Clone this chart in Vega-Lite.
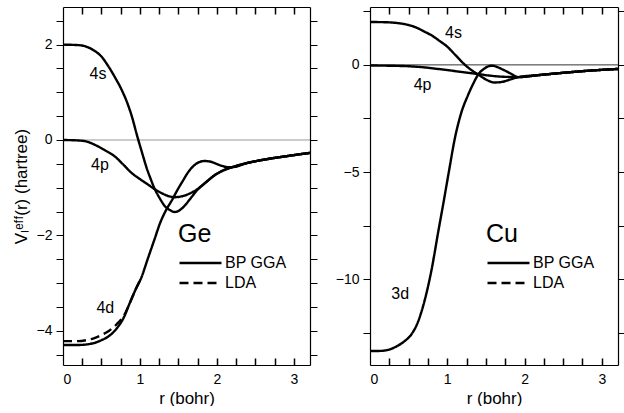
{
  "$schema": "https://vega.github.io/schema/vega-lite/v6.json",
  "padding": {"left": 12, "top": 4, "right": 0, "bottom": 0},
  "spacing": 17,
  "config": {
    "view": {"stroke": null},
    "font": "Liberation Sans",
    "axis": {"domainColor": "black", "domainWidth": 1.2, "tickColor": "black", "tickWidth": 1, "labelFont": "Liberation Sans", "labelFontSize": 14, "labelColor": "black", "titleFont": "Liberation Sans", "titleFontSize": 17, "titleFontWeight": "normal", "titleColor": "black", "grid": false, "labelOverlap": false}
  },
  "datasets": {
    "ge": [
      {"orbital": "zero", "method": "BP GGA", "r": 0, "v": 0},
      {"orbital": "zero", "method": "BP GGA", "r": 3.21, "v": 0},
      {"orbital": "4s", "method": "BP GGA", "r": 0, "v": 2.0},
      {"orbital": "4s", "method": "BP GGA", "r": 0.2, "v": 1.99},
      {"orbital": "4s", "method": "BP GGA", "r": 0.3, "v": 1.96},
      {"orbital": "4s", "method": "BP GGA", "r": 0.4, "v": 1.88},
      {"orbital": "4s", "method": "BP GGA", "r": 0.5, "v": 1.75},
      {"orbital": "4s", "method": "BP GGA", "r": 0.58, "v": 1.57},
      {"orbital": "4s", "method": "BP GGA", "r": 0.67, "v": 1.33},
      {"orbital": "4s", "method": "BP GGA", "r": 0.76, "v": 1.06},
      {"orbital": "4s", "method": "BP GGA", "r": 0.83, "v": 0.8},
      {"orbital": "4s", "method": "BP GGA", "r": 0.89, "v": 0.52},
      {"orbital": "4s", "method": "BP GGA", "r": 0.97, "v": 0.05},
      {"orbital": "4s", "method": "BP GGA", "r": 1.03, "v": -0.28},
      {"orbital": "4s", "method": "BP GGA", "r": 1.08, "v": -0.55},
      {"orbital": "4s", "method": "BP GGA", "r": 1.14, "v": -0.82},
      {"orbital": "4s", "method": "BP GGA", "r": 1.19, "v": -1.02},
      {"orbital": "4s", "method": "BP GGA", "r": 1.26, "v": -1.23},
      {"orbital": "4s", "method": "BP GGA", "r": 1.32, "v": -1.38},
      {"orbital": "4s", "method": "BP GGA", "r": 1.39, "v": -1.47},
      {"orbital": "4s", "method": "BP GGA", "r": 1.45, "v": -1.51},
      {"orbital": "4s", "method": "BP GGA", "r": 1.51, "v": -1.48},
      {"orbital": "4s", "method": "BP GGA", "r": 1.58, "v": -1.38},
      {"orbital": "4s", "method": "BP GGA", "r": 1.66, "v": -1.22},
      {"orbital": "4s", "method": "BP GGA", "r": 1.75, "v": -1.04},
      {"orbital": "4s", "method": "BP GGA", "r": 1.87, "v": -0.87},
      {"orbital": "4s", "method": "BP GGA", "r": 1.97, "v": -0.74},
      {"orbital": "4s", "method": "BP GGA", "r": 2.08, "v": -0.64},
      {"orbital": "4s", "method": "BP GGA", "r": 2.2, "v": -0.57},
      {"orbital": "4s", "method": "BP GGA", "r": 2.4, "v": -0.48},
      {"orbital": "4s", "method": "BP GGA", "r": 2.62, "v": -0.41},
      {"orbital": "4s", "method": "BP GGA", "r": 2.9, "v": -0.34},
      {"orbital": "4s", "method": "BP GGA", "r": 3.21, "v": -0.27},
      {"orbital": "4p", "method": "BP GGA", "r": 0, "v": 0.0},
      {"orbital": "4p", "method": "BP GGA", "r": 0.2, "v": -0.01},
      {"orbital": "4p", "method": "BP GGA", "r": 0.3, "v": -0.03},
      {"orbital": "4p", "method": "BP GGA", "r": 0.45, "v": -0.13},
      {"orbital": "4p", "method": "BP GGA", "r": 0.55, "v": -0.22},
      {"orbital": "4p", "method": "BP GGA", "r": 0.67, "v": -0.34},
      {"orbital": "4p", "method": "BP GGA", "r": 0.78, "v": -0.51},
      {"orbital": "4p", "method": "BP GGA", "r": 0.89, "v": -0.69},
      {"orbital": "4p", "method": "BP GGA", "r": 1.0, "v": -0.82},
      {"orbital": "4p", "method": "BP GGA", "r": 1.1, "v": -0.93},
      {"orbital": "4p", "method": "BP GGA", "r": 1.2, "v": -1.04},
      {"orbital": "4p", "method": "BP GGA", "r": 1.3, "v": -1.13},
      {"orbital": "4p", "method": "BP GGA", "r": 1.45, "v": -1.2},
      {"orbital": "4p", "method": "BP GGA", "r": 1.55, "v": -1.18},
      {"orbital": "4p", "method": "BP GGA", "r": 1.65, "v": -1.12},
      {"orbital": "4p", "method": "BP GGA", "r": 1.75, "v": -1.03},
      {"orbital": "4p", "method": "BP GGA", "r": 1.87, "v": -0.87},
      {"orbital": "4p", "method": "BP GGA", "r": 1.97, "v": -0.74},
      {"orbital": "4p", "method": "BP GGA", "r": 2.08, "v": -0.64},
      {"orbital": "4p", "method": "BP GGA", "r": 2.2, "v": -0.57},
      {"orbital": "4p", "method": "BP GGA", "r": 2.4, "v": -0.48},
      {"orbital": "4p", "method": "BP GGA", "r": 2.62, "v": -0.41},
      {"orbital": "4p", "method": "BP GGA", "r": 2.9, "v": -0.34},
      {"orbital": "4p", "method": "BP GGA", "r": 3.21, "v": -0.27},
      {"orbital": "4d", "method": "LDA", "r": 0, "v": -4.22},
      {"orbital": "4d", "method": "LDA", "r": 0.2, "v": -4.22},
      {"orbital": "4d", "method": "LDA", "r": 0.3, "v": -4.2},
      {"orbital": "4d", "method": "LDA", "r": 0.4, "v": -4.16},
      {"orbital": "4d", "method": "LDA", "r": 0.5, "v": -4.09},
      {"orbital": "4d", "method": "LDA", "r": 0.6, "v": -4.0},
      {"orbital": "4d", "method": "LDA", "r": 0.7, "v": -3.86},
      {"orbital": "4d", "method": "LDA", "r": 0.8, "v": -3.66},
      {"orbital": "4d", "method": "LDA", "r": 0.86, "v": -3.45},
      {"orbital": "4d", "method": "LDA", "r": 0.94, "v": -3.15},
      {"orbital": "4d", "method": "LDA", "r": 1.02, "v": -2.88},
      {"orbital": "4d", "method": "BP GGA", "r": 0, "v": -4.3},
      {"orbital": "4d", "method": "BP GGA", "r": 0.2, "v": -4.3},
      {"orbital": "4d", "method": "BP GGA", "r": 0.3, "v": -4.29},
      {"orbital": "4d", "method": "BP GGA", "r": 0.4, "v": -4.26},
      {"orbital": "4d", "method": "BP GGA", "r": 0.5, "v": -4.2},
      {"orbital": "4d", "method": "BP GGA", "r": 0.6, "v": -4.11},
      {"orbital": "4d", "method": "BP GGA", "r": 0.7, "v": -3.95},
      {"orbital": "4d", "method": "BP GGA", "r": 0.8, "v": -3.69},
      {"orbital": "4d", "method": "BP GGA", "r": 0.86, "v": -3.45},
      {"orbital": "4d", "method": "BP GGA", "r": 0.94, "v": -3.15},
      {"orbital": "4d", "method": "BP GGA", "r": 1.02, "v": -2.88},
      {"orbital": "4d", "method": "BP GGA", "r": 1.1, "v": -2.5},
      {"orbital": "4d", "method": "BP GGA", "r": 1.19, "v": -2.08},
      {"orbital": "4d", "method": "BP GGA", "r": 1.26, "v": -1.75},
      {"orbital": "4d", "method": "BP GGA", "r": 1.33, "v": -1.5},
      {"orbital": "4d", "method": "BP GGA", "r": 1.42, "v": -1.25},
      {"orbital": "4d", "method": "BP GGA", "r": 1.49, "v": -1.04},
      {"orbital": "4d", "method": "BP GGA", "r": 1.56, "v": -0.85},
      {"orbital": "4d", "method": "BP GGA", "r": 1.62, "v": -0.69},
      {"orbital": "4d", "method": "BP GGA", "r": 1.68, "v": -0.57},
      {"orbital": "4d", "method": "BP GGA", "r": 1.75, "v": -0.48},
      {"orbital": "4d", "method": "BP GGA", "r": 1.84, "v": -0.44},
      {"orbital": "4d", "method": "BP GGA", "r": 1.93, "v": -0.46},
      {"orbital": "4d", "method": "BP GGA", "r": 2.01, "v": -0.51},
      {"orbital": "4d", "method": "BP GGA", "r": 2.08, "v": -0.55},
      {"orbital": "4d", "method": "BP GGA", "r": 2.14, "v": -0.57},
      {"orbital": "4d", "method": "BP GGA", "r": 2.2, "v": -0.57},
      {"orbital": "4d", "method": "BP GGA", "r": 2.4, "v": -0.48},
      {"orbital": "4d", "method": "BP GGA", "r": 2.62, "v": -0.41},
      {"orbital": "4d", "method": "BP GGA", "r": 2.9, "v": -0.34},
      {"orbital": "4d", "method": "BP GGA", "r": 3.21, "v": -0.27}
    ],
    "cu": [
      {"orbital": "zero", "method": "BP GGA", "r": 0, "v": 0},
      {"orbital": "zero", "method": "BP GGA", "r": 3.21, "v": 0},
      {"orbital": "4s", "method": "BP GGA", "r": 0, "v": 2.0},
      {"orbital": "4s", "method": "BP GGA", "r": 0.2, "v": 1.99},
      {"orbital": "4s", "method": "BP GGA", "r": 0.3, "v": 1.97},
      {"orbital": "4s", "method": "BP GGA", "r": 0.4, "v": 1.93},
      {"orbital": "4s", "method": "BP GGA", "r": 0.5, "v": 1.86},
      {"orbital": "4s", "method": "BP GGA", "r": 0.6, "v": 1.74},
      {"orbital": "4s", "method": "BP GGA", "r": 0.7, "v": 1.56},
      {"orbital": "4s", "method": "BP GGA", "r": 0.8, "v": 1.37},
      {"orbital": "4s", "method": "BP GGA", "r": 0.9, "v": 1.12},
      {"orbital": "4s", "method": "BP GGA", "r": 1.0, "v": 0.85},
      {"orbital": "4s", "method": "BP GGA", "r": 1.1, "v": 0.48},
      {"orbital": "4s", "method": "BP GGA", "r": 1.23, "v": 0.0},
      {"orbital": "4s", "method": "BP GGA", "r": 1.32, "v": -0.26},
      {"orbital": "4s", "method": "BP GGA", "r": 1.4, "v": -0.45},
      {"orbital": "4s", "method": "BP GGA", "r": 1.5, "v": -0.68},
      {"orbital": "4s", "method": "BP GGA", "r": 1.61, "v": -0.82},
      {"orbital": "4s", "method": "BP GGA", "r": 1.7, "v": -0.8},
      {"orbital": "4s", "method": "BP GGA", "r": 1.8, "v": -0.7},
      {"orbital": "4s", "method": "BP GGA", "r": 1.92, "v": -0.57},
      {"orbital": "4s", "method": "BP GGA", "r": 2.2, "v": -0.47},
      {"orbital": "4s", "method": "BP GGA", "r": 2.5, "v": -0.37},
      {"orbital": "4s", "method": "BP GGA", "r": 2.8, "v": -0.28},
      {"orbital": "4s", "method": "BP GGA", "r": 3.21, "v": -0.19},
      {"orbital": "4p", "method": "BP GGA", "r": 0, "v": -0.03},
      {"orbital": "4p", "method": "BP GGA", "r": 0.4, "v": -0.05},
      {"orbital": "4p", "method": "BP GGA", "r": 0.65, "v": -0.1},
      {"orbital": "4p", "method": "BP GGA", "r": 0.88, "v": -0.19},
      {"orbital": "4p", "method": "BP GGA", "r": 1.1, "v": -0.29},
      {"orbital": "4p", "method": "BP GGA", "r": 1.25, "v": -0.36},
      {"orbital": "4p", "method": "BP GGA", "r": 1.4, "v": -0.43},
      {"orbital": "4p", "method": "BP GGA", "r": 1.55, "v": -0.5},
      {"orbital": "4p", "method": "BP GGA", "r": 1.7, "v": -0.55},
      {"orbital": "4p", "method": "BP GGA", "r": 1.92, "v": -0.57},
      {"orbital": "4p", "method": "BP GGA", "r": 2.2, "v": -0.47},
      {"orbital": "4p", "method": "BP GGA", "r": 2.5, "v": -0.37},
      {"orbital": "4p", "method": "BP GGA", "r": 2.8, "v": -0.28},
      {"orbital": "4p", "method": "BP GGA", "r": 3.21, "v": -0.19},
      {"orbital": "3d", "method": "BP GGA", "r": 0, "v": -13.35},
      {"orbital": "3d", "method": "BP GGA", "r": 0.15, "v": -13.34},
      {"orbital": "3d", "method": "BP GGA", "r": 0.25, "v": -13.28},
      {"orbital": "3d", "method": "BP GGA", "r": 0.35, "v": -13.12},
      {"orbital": "3d", "method": "BP GGA", "r": 0.45, "v": -12.88},
      {"orbital": "3d", "method": "BP GGA", "r": 0.54, "v": -12.55},
      {"orbital": "3d", "method": "BP GGA", "r": 0.62, "v": -12.0},
      {"orbital": "3d", "method": "BP GGA", "r": 0.71, "v": -10.95},
      {"orbital": "3d", "method": "BP GGA", "r": 0.8, "v": -9.5},
      {"orbital": "3d", "method": "BP GGA", "r": 0.88, "v": -7.85},
      {"orbital": "3d", "method": "BP GGA", "r": 0.95, "v": -6.45},
      {"orbital": "3d", "method": "BP GGA", "r": 1.02, "v": -5.0},
      {"orbital": "3d", "method": "BP GGA", "r": 1.1, "v": -3.4},
      {"orbital": "3d", "method": "BP GGA", "r": 1.18, "v": -2.25},
      {"orbital": "3d", "method": "BP GGA", "r": 1.27, "v": -1.4},
      {"orbital": "3d", "method": "BP GGA", "r": 1.34, "v": -0.85},
      {"orbital": "3d", "method": "BP GGA", "r": 1.4, "v": -0.45},
      {"orbital": "3d", "method": "BP GGA", "r": 1.47, "v": -0.2},
      {"orbital": "3d", "method": "BP GGA", "r": 1.53, "v": -0.07},
      {"orbital": "3d", "method": "BP GGA", "r": 1.58, "v": -0.04},
      {"orbital": "3d", "method": "BP GGA", "r": 1.64, "v": -0.09},
      {"orbital": "3d", "method": "BP GGA", "r": 1.72, "v": -0.22},
      {"orbital": "3d", "method": "BP GGA", "r": 1.82, "v": -0.4},
      {"orbital": "3d", "method": "BP GGA", "r": 1.92, "v": -0.57},
      {"orbital": "3d", "method": "BP GGA", "r": 2.2, "v": -0.47},
      {"orbital": "3d", "method": "BP GGA", "r": 2.5, "v": -0.37},
      {"orbital": "3d", "method": "BP GGA", "r": 2.8, "v": -0.28},
      {"orbital": "3d", "method": "BP GGA", "r": 3.21, "v": -0.19}
    ],
    "geLabels": [
      {"r": 0.455, "v": 1.39, "label": "4s"},
      {"r": 0.48, "v": -0.53, "label": "4p"},
      {"r": 0.55, "v": -3.53, "label": "4d"}
    ],
    "cuLabels": [
      {"r": 1.08, "v": 1.49, "label": "4s"},
      {"r": 0.68, "v": -0.96, "label": "4p"},
      {"r": 0.39, "v": -10.7, "label": "3d"}
    ]
  },
  "hconcat": [
    {
      "width": 247,
      "height": 358,
      "layer": [
        {
          "data": {"name": "ge"},
          "mark": {"type": "line", "interpolate": "monotone"},
          "encoding": {
            "x": {"field": "r", "type": "quantitative", "scale": {"domain": [0, 3.21], "nice": false},
              "axis": {"orient": "bottom", "title": "r (bohr)", "values": [0, 1, 2, 3], "ticks": false, "labelPadding": 7, "titlePadding": 4}},
            "y": {"field": "v", "type": "quantitative", "scale": {"domain": [-4.72, 2.79], "nice": false, "zero": false},
              "axis": {"orient": "left", "title": "Vₗᵉᶠᶠ(r)  (hartree)", "values": [-4.5, -4, -3.5, -3, -2.5, -2, -1.5, -1, -0.5, 0, 0.5, 1, 1.5, 2, 2.5], "labelExpr": "datum.value % 2 === 0 ? (datum.value < 0 ? '−' + abs(datum.value) : '' + datum.value) : ''", "tickSize": 7, "labelPadding": 4, "titlePadding": 6}},
            "detail": {"field": "orbital"},
            "color": {"field": "orbital", "type": "nominal", "scale": {"type": "ordinal", "domain": ["zero", "4s", "4p", "4d"], "range": ["#999999", "black", "black", "black"]}, "legend": null},
            "strokeWidth": {"field": "orbital", "type": "nominal", "scale": {"type": "ordinal", "domain": ["zero", "4s", "4p", "4d"], "range": [1, 2.4, 2.4, 2.4]}, "legend": null},
            "strokeDash": {"field": "method", "type": "nominal", "scale": {"domain": ["BP GGA", "LDA"], "range": [[1, 0], [9, 5]]},
              "legend": {"title": "Ge", "orient": "none", "legendX": 115, "legendY": 215, "titleFontSize": 25, "titleFont": "Liberation Sans", "titleFontWeight": "normal", "titleColor": "black", "labelFont": "Liberation Sans", "labelFontSize": 16, "labelColor": "black", "symbolType": "M-1,0H3", "symbolSize": 441, "symbolStrokeWidth": 2.4, "symbolStrokeColor": "black", "labelOffset": 23, "titlePadding": 4, "rowPadding": 0}}
          }
        },
        {
          "data": {"name": "geLabels"},
          "mark": {"type": "text", "font": "Liberation Sans", "fontSize": 16, "color": "black"},
          "encoding": {
            "x": {"field": "r", "type": "quantitative", "axis": {"orient": "top", "title": null, "labels": false, "ticks": false, "grid": true, "gridColor": "black", "gridWidth": 1.5, "gridOpacity": 1, "gridDash": [7, 344, 7, 2000], "values": [0.25, 0.5, 0.75, 1, 1.25, 1.5, 1.75, 2, 2.25, 2.5, 2.75, 3]}},
            "y": {"field": "v", "type": "quantitative", "axis": {"orient": "right", "title": null, "labels": false, "values": [-4.5, -4, -3.5, -3, -2.5, -2, -1.5, -1, -0.5, 0, 0.5, 1, 1.5, 2, 2.5], "tickSize": 7}},
            "text": {"field": "label"}
          }
        }
      ],
      "resolve": {"axis": {"x": "independent", "y": "independent"}}
    },
    {
      "width": 248,
      "height": 358,
      "layer": [
        {
          "data": {"name": "cu"},
          "mark": {"type": "line", "interpolate": "monotone"},
          "encoding": {
            "x": {"field": "r", "type": "quantitative", "scale": {"domain": [0, 3.21], "nice": false},
              "axis": {"orient": "bottom", "title": "r (bohr)", "values": [0, 1, 2, 3], "ticks": false, "labelPadding": 7, "titlePadding": 4}},
            "y": {"field": "v", "type": "quantitative", "scale": {"domain": [-14.0, 2.7], "nice": false, "zero": false},
              "axis": {"orient": "left", "title": null, "values": [-12.5, -10, -7.5, -5, -2.5, 0, 2.5], "labelExpr": "datum.value % 5 === 0 ? (datum.value < 0 ? '−' + abs(datum.value) : '' + datum.value) : ''", "tickSize": 7, "labelPadding": 4}},
            "detail": {"field": "orbital"},
            "color": {"field": "orbital", "type": "nominal", "scale": {"type": "ordinal", "domain": ["zero", "4s", "4p", "3d"], "range": ["#333333", "black", "black", "black"]}, "legend": null},
            "strokeWidth": {"field": "orbital", "type": "nominal", "scale": {"type": "ordinal", "domain": ["zero", "4s", "4p", "3d"], "range": [1, 2.4, 2.4, 2.4]}, "legend": null},
            "strokeDash": {"field": "method", "type": "nominal", "scale": {"domain": ["BP GGA", "LDA"], "range": [[1, 0], [9, 5]]},
              "legend": {"title": "Cu", "orient": "none", "legendX": 116, "legendY": 215, "titleFontSize": 25, "titleFont": "Liberation Sans", "titleFontWeight": "normal", "titleColor": "black", "labelFont": "Liberation Sans", "labelFontSize": 16, "labelColor": "black", "symbolType": "M-1,0H3", "symbolSize": 441, "symbolStrokeWidth": 2.4, "symbolStrokeColor": "black", "labelOffset": 23, "titlePadding": 4, "rowPadding": 0}}
          }
        },
        {
          "data": {"name": "cuLabels"},
          "mark": {"type": "text", "font": "Liberation Sans", "fontSize": 16, "color": "black"},
          "encoding": {
            "x": {"field": "r", "type": "quantitative", "axis": {"orient": "top", "title": null, "labels": false, "ticks": false, "grid": true, "gridColor": "black", "gridWidth": 1.5, "gridOpacity": 1, "gridDash": [7, 344, 7, 2000], "values": [0.25, 0.5, 0.75, 1, 1.25, 1.5, 1.75, 2, 2.25, 2.5, 2.75, 3]}},
            "y": {"field": "v", "type": "quantitative", "axis": {"orient": "right", "title": null, "labels": false, "values": [-12.5, -10, -7.5, -5, -2.5, 0, 2.5], "tickSize": 7}},
            "text": {"field": "label"}
          }
        }
      ],
      "resolve": {"axis": {"x": "independent", "y": "independent"}}
    }
  ],
  "resolve": {"scale": {"strokeDash": "independent", "color": "independent", "strokeWidth": "independent"}, "legend": {"strokeDash": "independent"}}
}
